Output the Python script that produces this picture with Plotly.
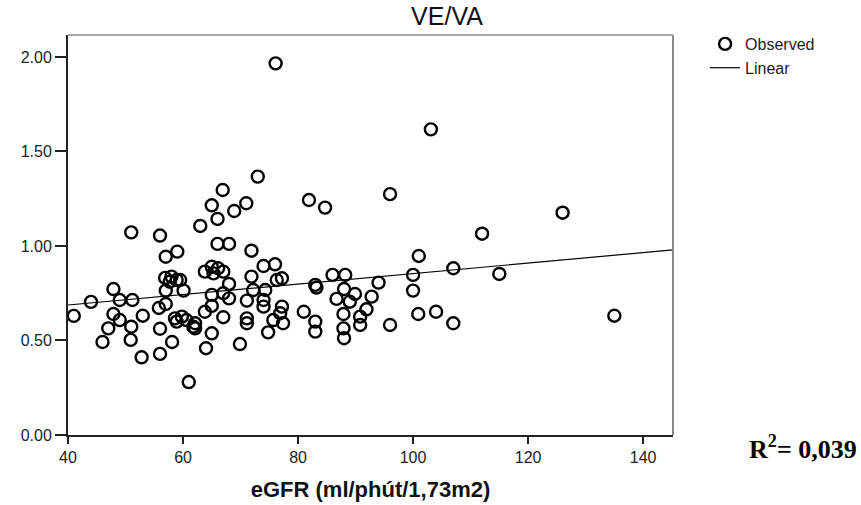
import plotly.graph_objects as go

# eGFR (ml/phút/1,73m2) values and VE/VA values
egfr = [76.1, 103.1, 73.0, 66.9, 96.0, 81.9, 71.0, 65.0, 84.7, 68.9,
        126.0, 66.0, 63.0, 51.0, 112.0, 56.0, 66.0, 68.0, 59.0, 71.9,
        57.0, 101.0, 74.0, 76.0, 107.0, 65.0, 66.1, 63.8, 67.0, 65.3,
        115.0, 100.0, 86.0, 88.2, 71.9, 58.0, 56.9, 58.9, 59.5, 57.7,
        76.3, 77.2, 94.0, 68.0, 83.0, 83.2, 47.9, 88.0, 57.0, 60.1,
        72.2, 74.3, 100.0, 67.0, 89.9, 65.0, 92.8, 68.0, 86.7, 49.0,
        51.2, 71.1, 74.0, 89.0, 44.0, 57.0, 74.0, 77.2, 55.8, 91.9,
        63.8, 81.0, 104.0, 76.9, 47.9, 87.9, 100.9, 41.0, 53.0, 135.0,
        59.8, 90.8, 67.0, 58.6, 71.1, 49.0, 60.6, 75.7, 58.9, 83.0,
        62.1, 71.1, 77.4, 107.0, 90.8, 96.0, 51.0, 61.8, 47.0, 56.0,
        62.1, 87.9, 83.0, 74.8, 65.0, 88.0, 50.9, 46.0, 58.1, 69.9,
        64.0, 56.0, 52.8, 61.0, 65.0]
veva = [1.966, 1.617, 1.367, 1.296, 1.274, 1.243, 1.226, 1.215, 1.203, 1.185,
        1.176, 1.143, 1.106, 1.072, 1.065, 1.055, 1.011, 1.011, 0.970, 0.975,
        0.943, 0.947, 0.894, 0.903, 0.882, 0.890, 0.882, 0.864, 0.864, 0.855,
        0.852, 0.847, 0.847, 0.847, 0.838, 0.838, 0.831, 0.820, 0.820, 0.811,
        0.820, 0.829, 0.806, 0.799, 0.794, 0.780, 0.772, 0.772, 0.764, 0.764,
        0.767, 0.767, 0.764, 0.750, 0.746, 0.741, 0.732, 0.723, 0.720, 0.714,
        0.714, 0.711, 0.714, 0.705, 0.704, 0.693, 0.679, 0.679, 0.672, 0.665,
        0.652, 0.652, 0.652, 0.644, 0.640, 0.640, 0.640, 0.630, 0.631, 0.631,
        0.626, 0.626, 0.623, 0.617, 0.617, 0.608, 0.608, 0.608, 0.600, 0.600,
        0.591, 0.591, 0.591, 0.591, 0.582, 0.582, 0.573, 0.573, 0.564, 0.562,
        0.564, 0.564, 0.547, 0.543, 0.538, 0.512, 0.503, 0.492, 0.492, 0.481,
        0.459, 0.429, 0.411, 0.280, 0.683]

# Linear fit coefficients (as drawn)
fit_intercept = 0.577
fit_slope = 0.00277

x_range = [40, 145.2]
y_range = [0, 2.116]
x_ticks = [40, 60, 80, 100, 120, 140]
y_ticks = [0.0, 0.5, 1.0, 1.5, 2.0]

fit_x = list(x_range)
fit_y = [fit_intercept + fit_slope * v for v in fit_x]

fig = go.Figure()
fig.add_trace(go.Scatter(
    x=egfr, y=veva, mode="markers", name="Observed",
    marker=dict(symbol="circle-open", size=12, color="black",
                line=dict(color="black", width=2.4)),
    cliponaxis=False,
))
fig.add_trace(go.Scatter(
    x=fit_x, y=fit_y, mode="lines", name="Linear",
    line=dict(color="black", width=1.2),
))

sans = "Liberation Sans, Arial, sans-serif"
axis_font = dict(family=sans, size=16, color="#222")

fig.update_layout(
    width=861, height=505,
    margin=dict(l=68, r=188, t=35, b=70),
    plot_bgcolor="white", paper_bgcolor="white",
    showlegend=True,
    legend=dict(x=1.053, y=1.02, xanchor="left", yanchor="top",
                font=dict(family=sans, size=16, color="#222"),
                bgcolor="rgba(0,0,0,0)", tracegroupgap=0),
    title=dict(text="VE/VA", x=447 / 861, xanchor="center",
               y=1 - 16 / 505, yanchor="middle",
               font=dict(family=sans, size=25, color="#111")),
    xaxis=dict(range=x_range, tickvals=x_ticks, ticks="outside", ticklen=7,
               tickwidth=1.5, tickcolor="#222", showgrid=False, zeroline=False,
               showline=True, linecolor="#222", linewidth=2, automargin=False,
               tickfont=axis_font,
               title=dict(text="<b>eGFR (ml/phút/1,73m2)</b>", standoff=16,
                          font=dict(family=sans, size=22, color="#111"))),
    yaxis=dict(range=y_range, tickvals=y_ticks, tickformat=".2f", ticks="outside",
               ticklen=11, tickwidth=1.5, tickcolor="#222", showgrid=False, zeroline=False,
               showline=True, linecolor="#222", linewidth=2, automargin=False,
               tickfont=axis_font),
    shapes=[
        dict(type="line", xref="paper", yref="paper", x0=0, x1=1, y0=1, y1=1,
             line=dict(color="#8a8a8a", width=1.5)),
        dict(type="line", xref="paper", yref="paper", x0=1, x1=1, y0=0, y1=1,
             line=dict(color="#8a8a8a", width=2)),
    ],
    annotations=[
        dict(text="<b>R<sup>2</sup>= 0,039</b>", xref="paper", yref="paper",
             x=(803 - 68) / 605, y=(435 - 447) / 400, xanchor="center", yanchor="middle",
             showarrow=False,
             font=dict(family="Liberation Serif, Times New Roman, serif", size=26, color="black")),
    ],
)

fig.write_html("out.html")
